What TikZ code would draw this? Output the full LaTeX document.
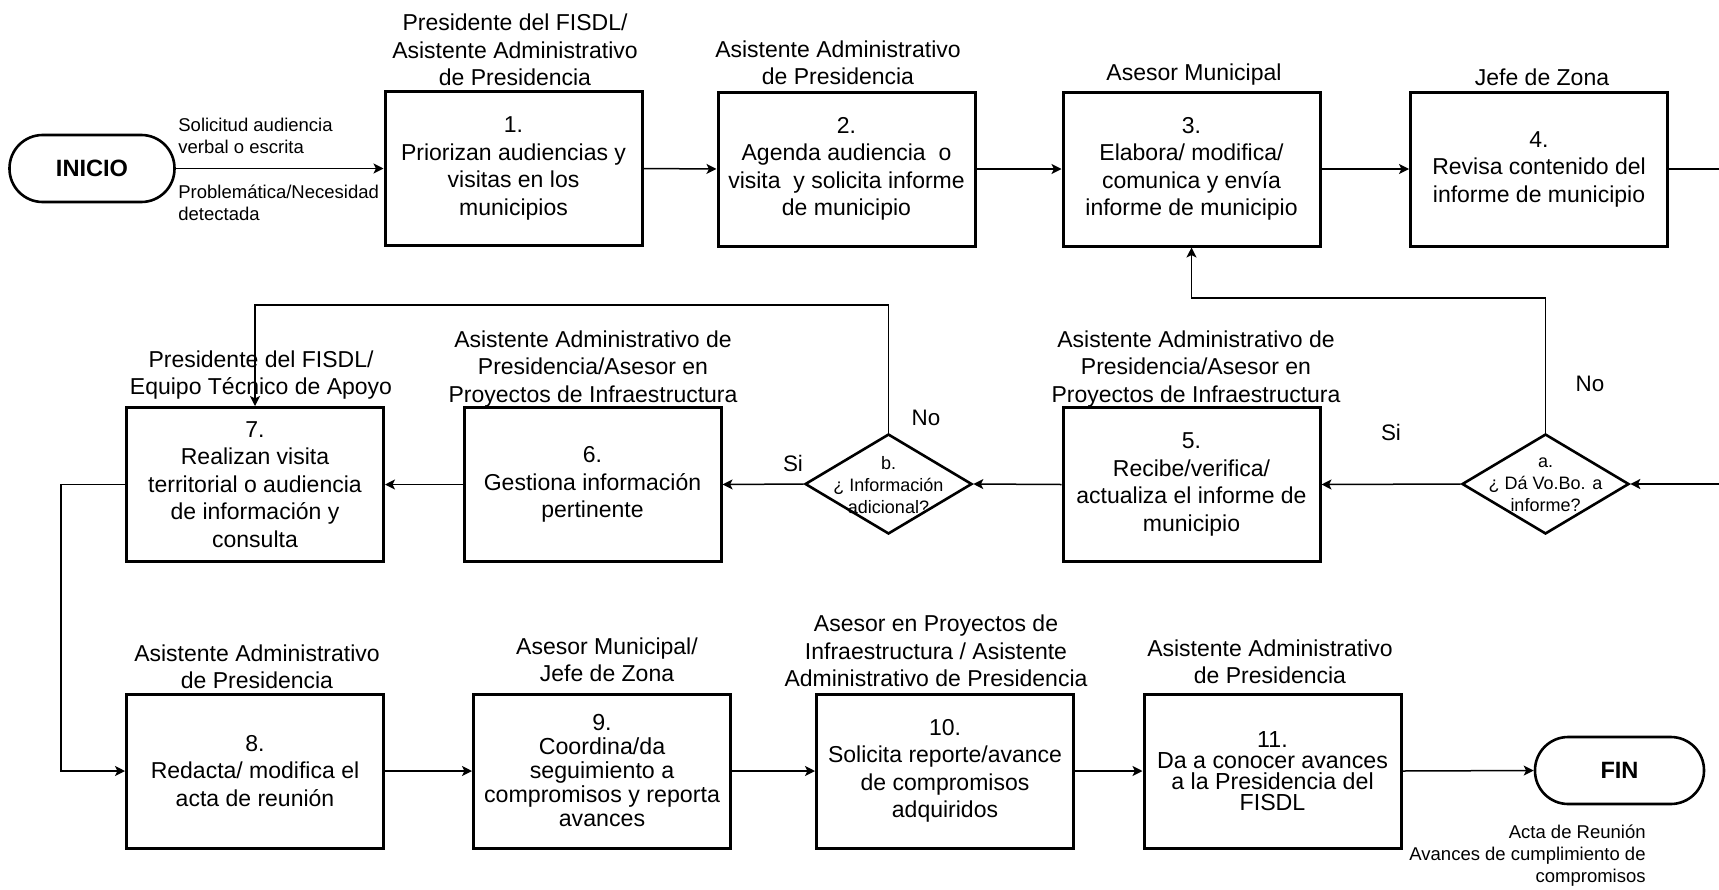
\documentclass[tikz,border=0pt]{standalone}
\usepackage{fontspec}
\setmainfont{Liberation Sans}
\usetikzlibrary{shapes.geometric,arrows.meta,calc}
\begin{document}
\begin{tikzpicture}[x=0.5pt,y=-0.5pt,
  box/.style={draw,line width=1.5pt,minimum width=128.5pt,minimum height=77pt,inner sep=0pt,align=center,font=\fontsize{11.5pt}{13.75pt}\selectfont},
  lbl/.style={inner sep=0pt,align=center,font=\fontsize{11.5pt}{13.75pt}\selectfont},
  small/.style={inner sep=0pt,font=\fontsize{9.25pt}{11pt}\selectfont},
  yn/.style={inner sep=0pt,font=\fontsize{11.2pt}{13pt}\selectfont},
  dia/.style={draw,diamond,line width=1.3pt,minimum width=83.5pt,minimum height=50pt,inner sep=0pt},
  diatext/.style={inner sep=0pt,align=center,font=\fontsize{9pt}{11pt}\selectfont},
  term/.style={draw,line width=1.3pt,rounded corners=16.6pt,minimum height=33.5pt,inner sep=0pt,font=\fontsize{11.8pt}{14pt}\selectfont\bfseries},
  arr/.style={line width=0.75pt,-{Stealth[length=5pt,width=5pt,inset=1.2pt]}},
  conn/.style={line width=0.75pt}
]
\fill[white] (0,0) rectangle (1719,889);
\clip (0,0) rectangle (1719,889);

% helper coordinates
\coordinate (ya) at (0,298);
\coordinate (yb) at (0,305);
\coordinate (xl) at (61,0);
\coordinate (xr) at (1750,0);

% top row
\node[term,minimum width=82.5pt] (inicio) at (92,168.5) {INICIO};
\node[box] (b1) at (513.5,168.5) {1.\\Priorizan audiencias y\\visitas en los\\municipios};
\node[box] (b2) at (846.5,169) {2.\\Agenda audiencia~ o\\visita~ y solicita informe\\de municipio};
\node[box] (b3) at (1191.5,169) {3.\\Elabora/ modifica/\\comunica y envía\\informe de municipio};
\node[box] (b4) at (1539,169) {4.\\Revisa contenido del\\informe de municipio};

\node[lbl] (l1) at (515,50) {Presidente del FISDL/\\Asistente Administrativo\\de Presidencia};
\node[lbl] (l2) at (838,63) {Asistente Administrativo\\de Presidencia};
\node[lbl] (l3) at (1194,75) {Asesor Municipal};
\node[lbl] (l4) at (1542,77) {Jefe de Zona};

\node[small,anchor=west,align=left] (s1) at (178,136) {Solicitud audiencia\\verbal o escrita};
\node[small,anchor=west,align=left] (s2) at (178,203) {Problemática/Necesidad\\detectada};

% middle row
\node[dia] (da) at (1545.5,484) {};
\node[diatext] (dat) at (1545.5,485) {a.\\¿ Dá Vo.Bo. a\\informe?};
\node[box] (b5) at (1191.5,484.5) {5.\\Recibe/verifica/\\actualiza el informe de\\municipio};
\node[dia] (db) at (888.5,484) {};
\node[diatext] (dbt) at (888.5,485) {b.\\¿ Información\\adicional?};
\node[box] (b6) at (592.5,484.5) {6.\\Gestiona información\\pertinente};
\node[box] (b7) at (255,484.5) {7.\\Realizan visita\\territorial o audiencia\\de información y\\consulta};

\node[lbl] (l5) at (1196,369) {Asistente Administrativo de\\Presidencia/Asesor en\\Proyectos de Infraestructura};
\node[lbl] (l6) at (593,369) {Asistente Administrativo de\\Presidencia/Asesor en\\Proyectos de Infraestructura};
\node[lbl] (l7) at (261,375) {Presidente del FISDL/\\Equipo Técnico de Apoyo};

\node[yn] (noa) at (1590,384) {No};
\node[yn] (sia) at (1391,432) {Si};
\node[yn] (nob) at (926,418) {No};
\node[yn] (sib) at (793,463) {Si};

% bottom row
\node[box] (b8) at (255,771) {8.\\Redacta/ modifica el\\acta de reunión};
\node[box,font=\fontsize{11.6pt}{12pt}\selectfont] (b9) at (602,771) {9.\\Coordina/da\\seguimiento a\\compromisos y reporta\\avances};
\node[box] (b10) at (945,771) {10.\\Solicita reporte/avance\\de compromisos\\adquiridos};
\node[box,font=\fontsize{11.6pt}{10.6pt}\selectfont] (b11) at (1272.5,771) {11.\\Da a conocer avances\\a la Presidencia del\\FISDL};
\node[term,minimum width=84.5pt] (fin) at (1619.5,770.5) {FIN};

\node[lbl] (l8) at (257,667) {Asistente Administrativo\\de Presidencia};
\node[lbl] (l9) at (607,660) {Asesor Municipal/\\Jefe de Zona};
\node[lbl] (l10) at (936,651) {Asesor en Proyectos de\\Infraestructura / Asistente\\Administrativo de Presidencia};
\node[lbl] (l11) at (1270,662) {Asistente Administrativo\\de Presidencia};

\node[small,anchor=east,align=right] (s3) at (1646,856) {Acta de Reunión\\Avances de cumplimiento de\\compromisos};

% connectors
\draw[arr] (inicio.east) -- (b1.west);
\draw[arr] (b1.east) -- (b2.west);
\draw[arr] (b2.east) -- (b3.west);
\draw[arr] (b3.east) -- (b4.west);
\draw[arr] (b4.east) -- (b4.east -| xr) |- (da.east);
\draw[arr] (da.west) -- (b5.east);
\draw[arr] (da.north) -- (da.north |- ya) -| (b3.south);
\draw[arr] (b5.west) -- (db.east);
\draw[arr] (db.west) -- (b6.east);
\draw[arr] (db.north) -- (db.north |- yb) -| (b7.north);
\draw[arr] (b6.west) -- (b7.east);
\draw[arr] (b7.west) -- (b7.west -| xl) |- (b8.west);
\draw[arr] (b8.east) -- (b9.west);
\draw[arr] (b9.east) -- (b10.west);
\draw[arr] (b10.east) -- (b11.west);
\draw[arr] (b11.east) -- (fin.west);
\end{tikzpicture}
\end{document}
